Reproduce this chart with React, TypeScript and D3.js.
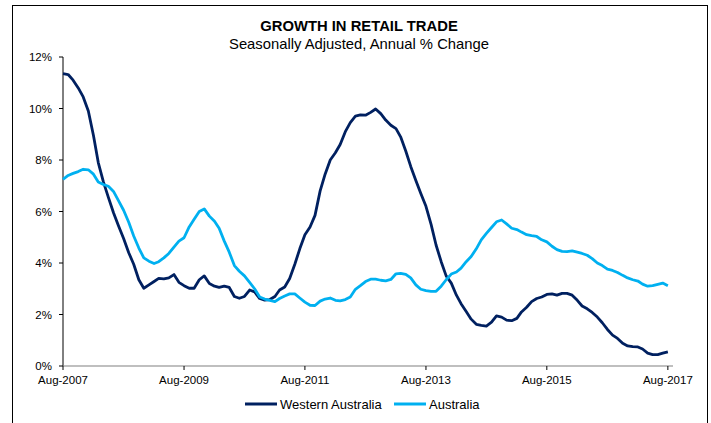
import React from 'react';
import * as d3 from 'd3';

// monthly, Aug-2007 .. Aug-2017
const startMonth = '2007-08';
const westernAustralia = [
  11.35, 11.32, 11.1, 10.8, 10.45, 9.9, 8.95, 7.9, 7.15, 6.55, 5.95, 5.45,
  4.95, 4.4, 3.95, 3.35, 3.02, 3.15, 3.28, 3.4, 3.38, 3.42, 3.55, 3.25,
  3.12, 3.02, 3.02, 3.35, 3.5, 3.2, 3.1, 3.05, 3.1, 3.05, 2.7, 2.63,
  2.7, 2.95, 2.88, 2.62, 2.56, 2.58, 2.7, 2.95, 3.07, 3.4, 3.95, 4.55,
  5.1, 5.4, 5.85, 6.8, 7.45, 8.0, 8.28, 8.6, 9.1, 9.45, 9.7, 9.75,
  9.74, 9.85, 9.98, 9.8, 9.55, 9.35, 9.22, 8.9, 8.35, 7.75, 7.2, 6.7,
  6.2, 5.5, 4.7, 4.05, 3.5, 3.22, 2.75, 2.42, 2.12, 1.82, 1.62, 1.58,
  1.55, 1.7, 1.95, 1.9, 1.78, 1.76, 1.85, 2.1, 2.28, 2.5, 2.62, 2.68,
  2.78, 2.8, 2.75, 2.82, 2.82, 2.75, 2.55, 2.33, 2.22, 2.08, 1.9, 1.68,
  1.42, 1.2, 1.07, 0.88, 0.78, 0.75, 0.74, 0.66, 0.5, 0.44, 0.44, 0.5,
  0.55,
];
const australia = [
  7.25, 7.4, 7.48, 7.55, 7.64, 7.62, 7.45, 7.15, 7.05, 6.98, 6.78, 6.42,
  6.05, 5.58, 5.05, 4.58, 4.2, 4.07, 3.98, 4.05, 4.2, 4.37, 4.62, 4.85,
  4.98, 5.4, 5.7, 6.0, 6.1, 5.82, 5.62, 5.35, 4.85, 4.42, 3.9, 3.68,
  3.5, 3.25, 3.0, 2.68, 2.6, 2.55, 2.5, 2.62, 2.72, 2.8, 2.8, 2.64,
  2.48, 2.36, 2.35, 2.52, 2.6, 2.64, 2.55, 2.53, 2.58, 2.68, 2.98, 3.12,
  3.28, 3.37, 3.37, 3.33, 3.31, 3.36, 3.58, 3.6, 3.56, 3.42, 3.15, 2.98,
  2.93, 2.9, 2.9, 3.1, 3.35, 3.57, 3.65, 3.8, 4.05, 4.25, 4.55, 4.9,
  5.15, 5.38, 5.6, 5.67, 5.52, 5.35, 5.3, 5.2, 5.1, 5.06, 5.03, 4.9,
  4.82, 4.65, 4.52, 4.45, 4.44, 4.47, 4.42, 4.37, 4.3, 4.17, 4.0, 3.9,
  3.76, 3.71, 3.63, 3.52, 3.42, 3.35, 3.3, 3.18, 3.1, 3.12, 3.17, 3.22,
  3.12,
];
const xTickLabels = ['Aug-2007', 'Aug-2009', 'Aug-2011', 'Aug-2013', 'Aug-2015', 'Aug-2017'];
const yTicks = [0, 2, 4, 6, 8, 10, 12];

const seriesList = [
  { name: 'Western Australia', values: westernAustralia, color: '#002060' },
  { name: 'Australia', values: australia, color: '#00B0F0' },
];

const W = 711;
const H = 423;
const FONT = 'Liberation Sans, Arial, sans-serif';

export default function App() {
  const parseMonth = d3.timeParse('%Y-%m');
  const parseTick = d3.timeParse('%b-%Y');
  const start = parseMonth(startMonth) as Date;
  const months = westernAustralia.map((_, i) => d3.timeMonth.offset(start, i));

  const x = d3
    .scaleTime()
    .domain([start, d3.timeMonth.offset(start, westernAustralia.length)])
    .range([63, 673]);
  const y = d3.scaleLinear().domain([0, 12]).range([366, 57]);

  const line = d3
    .line<number>()
    .x((_, i) => x(months[i]))
    .y((d) => y(d));

  const x0 = x.range()[0];
  const x1 = x.range()[1];
  const yBase = y(0);

  return (
    <svg
      width={W}
      height={H}
      style={{ position: 'absolute', left: 0, top: 0, background: '#fff' }}
      fontFamily={FONT}
    >
      <rect x={12.5} y={5.5} width={695} height={420} fill="#fff" stroke="#000" strokeWidth={1} />

      <text x={359} y={31} textAnchor="middle" fontSize={14.8} fontWeight="bold" fill="#000">
        GROWTH IN RETAIL TRADE
      </text>
      <text x={359} y={49} textAnchor="middle" fontSize={14.8} fill="#000">
        Seasonally Adjusted, Annual % Change
      </text>

      {/* y axis */}
      <line x1={x0} x2={x0} y1={y(12)} y2={yBase} stroke="#000" strokeWidth={1} />
      {yTicks.map((t) => (
        <g key={t}>
          <line x1={x0 - 4} x2={x0} y1={y(t)} y2={y(t)} stroke="#000" strokeWidth={1} />
          <text x={52} y={y(t)} dy="0.35em" textAnchor="end" fontSize={11.5} fill="#000">
            {t}%
          </text>
        </g>
      ))}

      {/* x axis */}
      <line x1={x0} x2={x1} y1={yBase} y2={yBase} stroke="#808080" strokeWidth={1.2} />
      {xTickLabels.map((lbl) => {
        const tx = x(parseTick(lbl) as Date);
        return (
          <g key={lbl}>
            <line x1={tx} x2={tx} y1={yBase} y2={yBase + 4} stroke="#000" strokeWidth={1} />
            <text x={tx} y={384} textAnchor="middle" fontSize={11.5} fill="#000">
              {lbl}
            </text>
          </g>
        );
      })}

      {seriesList.map((s) => (
        <path
          key={s.name}
          d={line(s.values) || ''}
          fill="none"
          stroke={s.color}
          strokeWidth={2.8}
          strokeLinejoin="round"
        />
      ))}

      {/* legend */}
      {seriesList.map((s, i) => {
        const lx = i === 0 ? 245 : 394;
        return (
          <g key={s.name}>
            <line x1={lx} x2={lx + 32} y1={404} y2={404} stroke={s.color} strokeWidth={3} />
            <text x={lx + 35} y={404} dy="0.36em" fontSize={13} fill="#000">
              {s.name}
            </text>
          </g>
        );
      })}
    </svg>
  );
}
